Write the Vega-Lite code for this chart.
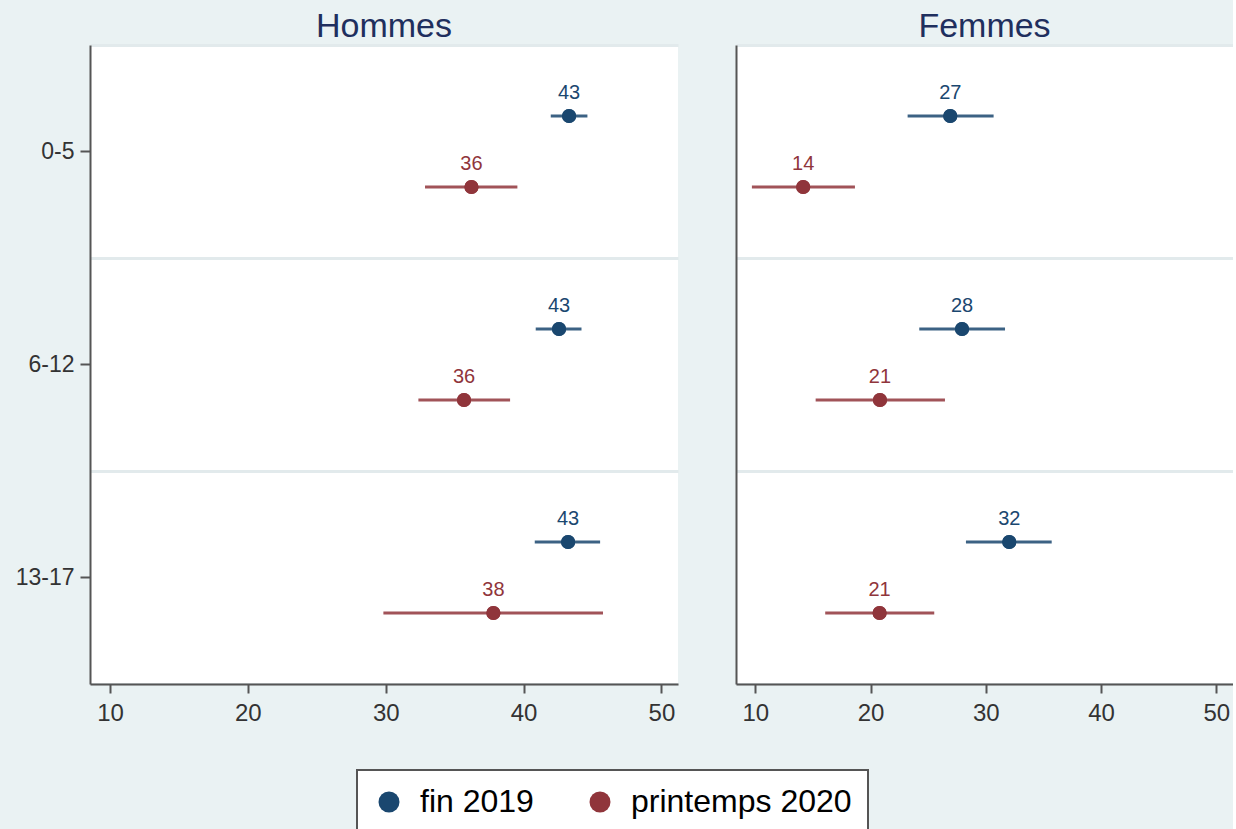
{
  "$schema": "https://vega.github.io/schema/vega-lite/v6.json",
  "background": "#eaf2f3",
  "padding": {"left": 10, "top": 10, "right": 0, "bottom": 110},
  "spacing": 58,
  "config": {
    "font": "Liberation Sans",
    "view": {"fill": "white", "stroke": null},
    "title": {"fontSize": 34, "fontWeight": "normal", "color": "#1f2f5e", "offset": 1, "anchor": "middle"},
    "axis": {"domainColor": "#555555", "domainWidth": 2, "tickColor": "#555555", "tickWidth": 2, "labelColor": "#333333", "labelFontSize": 23, "labelFont": "Liberation Sans"},
    "legend": {"title": null, "orient": "none", "legendX": 267, "legendY": 725, "direction": "horizontal", "symbolType": "circle", "symbolSize": 441, "symbolStrokeWidth": 0, "symbolOpacity": 1, "labelFontSize": 32, "labelLimit": 500, "labelColor": "#000000", "fillColor": "white", "strokeColor": "#555555", "strokeWidth": 2, "padding": 16, "columnPadding": 50, "labelOffset": 15}
  },
  "data": {"values": [
    {"sexe": "Hommes", "age": "0-5", "periode": "fin 2019", "est": 43.3, "lo": 41.97, "hi": 44.63},
    {"sexe": "Hommes", "age": "0-5", "periode": "printemps 2020", "est": 36.22, "lo": 32.85, "hi": 39.55},
    {"sexe": "Hommes", "age": "6-12", "periode": "fin 2019", "est": 42.57, "lo": 40.88, "hi": 44.2},
    {"sexe": "Hommes", "age": "6-12", "periode": "printemps 2020", "est": 35.68, "lo": 32.37, "hi": 39.02},
    {"sexe": "Hommes", "age": "13-17", "periode": "fin 2019", "est": 43.23, "lo": 40.81, "hi": 45.55},
    {"sexe": "Hommes", "age": "13-17", "periode": "printemps 2020", "est": 37.81, "lo": 29.83, "hi": 45.76},
    {"sexe": "Femmes", "age": "0-5", "periode": "fin 2019", "est": 26.92, "lo": 23.22, "hi": 30.68},
    {"sexe": "Femmes", "age": "0-5", "periode": "printemps 2020", "est": 14.16, "lo": 9.71, "hi": 18.65},
    {"sexe": "Femmes", "age": "6-12", "periode": "fin 2019", "est": 27.94, "lo": 24.23, "hi": 31.67},
    {"sexe": "Femmes", "age": "6-12", "periode": "printemps 2020", "est": 20.82, "lo": 15.24, "hi": 26.46},
    {"sexe": "Femmes", "age": "13-17", "periode": "fin 2019", "est": 32.04, "lo": 28.28, "hi": 35.72},
    {"sexe": "Femmes", "age": "13-17", "periode": "printemps 2020", "est": 20.79, "lo": 16.07, "hi": 25.53}
  ]},
  "hconcat": [
    {
      "width": 588, "height": 639,
      "title": "Hommes",
      "transform": [{"filter": "datum.sexe === 'Hommes'"}],
      "layer": [
        {
          "mark": {"type": "point", "filled": true, "size": 200, "opacity": 1},
          "encoding": {
            "x": {"field": "est", "type": "quantitative", "scale": {"domain": [8.55, 51.2], "nice": false, "zero": false}, "axis": {"values": [10, 20, 30, 40, 50], "grid": false, "title": null, "tickSize": 9, "labelPadding": 8, "labelFontSize": 24}},
            "y": {"field": "age", "type": "nominal", "sort": ["0-5", "6-12", "13-17"], "scale": {"paddingInner": 0, "paddingOuter": 0}, "axis": {"orient": "left", "grid": false, "tickSize": 10, "labelPadding": 6, "minExtent": 80, "maxExtent": 80, "title": null}},
            "yOffset": {"field": "periode", "type": "nominal", "sort": ["fin 2019", "printemps 2020"], "scale": {"paddingInner": 0, "paddingOuter": 0.5}},
            "color": {"field": "periode", "type": "nominal", "scale": {"domain": ["fin 2019", "printemps 2020"], "range": ["#1a476f", "#90353b"]}}
          }
        },
        {
          "mark": {"type": "rule", "strokeWidth": 3, "opacity": 0.85},
          "encoding": {
            "x": {"field": "lo", "type": "quantitative"},
            "x2": {"field": "hi"},
            "y": {"field": "age", "type": "nominal", "sort": ["0-5", "6-12", "13-17"], "axis": {"orient": "left", "tickBand": "extent", "grid": true, "gridColor": "#e2eaec", "gridWidth": 3, "labels": false, "ticks": false, "domain": false, "minExtent": 0, "maxExtent": 0, "title": null}},
            "yOffset": {"field": "periode", "type": "nominal", "sort": ["fin 2019", "printemps 2020"]},
            "color": {"field": "periode", "type": "nominal"}
          }
        },
        {
          "mark": {"type": "point", "filled": true, "size": 200, "opacity": 1},
          "encoding": {
            "x": {"field": "est", "type": "quantitative"},
            "y": {"field": "age", "type": "nominal", "sort": ["0-5", "6-12", "13-17"], "axis": null},
            "yOffset": {"field": "periode", "type": "nominal", "sort": ["fin 2019", "printemps 2020"]},
            "color": {"field": "periode", "type": "nominal"}
          }
        },
        {
          "mark": {"type": "text", "fontSize": 20, "dy": -23},
          "encoding": {
            "x": {"field": "est", "type": "quantitative"},
            "y": {"field": "age", "type": "nominal", "sort": ["0-5", "6-12", "13-17"], "axis": null},
            "yOffset": {"field": "periode", "type": "nominal", "sort": ["fin 2019", "printemps 2020"]},
            "text": {"field": "est", "type": "quantitative", "format": ".0f"},
            "color": {"field": "periode", "type": "nominal"}
          }
        }
      ],
      "resolve": {"axis": {"y": "independent"}}
    },
    {
      "width": 497, "height": 639,
      "title": "Femmes",
      "transform": [{"filter": "datum.sexe === 'Femmes'"}],
      "layer": [
        {
          "mark": {"type": "point", "filled": true, "size": 200, "opacity": 1},
          "encoding": {
            "x": {"field": "est", "type": "quantitative", "scale": {"domain": [8.33, 51.45], "nice": false, "zero": false}, "axis": {"values": [10, 20, 30, 40, 50], "grid": false, "title": null, "tickSize": 9, "labelPadding": 8, "labelFontSize": 24}},
            "y": {"field": "age", "type": "nominal", "sort": ["0-5", "6-12", "13-17"], "scale": {"paddingInner": 0, "paddingOuter": 0}, "axis": {"orient": "left", "grid": false, "labels": false, "ticks": false, "minExtent": 0, "maxExtent": 0, "title": null}},
            "yOffset": {"field": "periode", "type": "nominal", "sort": ["fin 2019", "printemps 2020"], "scale": {"paddingInner": 0, "paddingOuter": 0.5}},
            "color": {"field": "periode", "type": "nominal", "scale": {"domain": ["fin 2019", "printemps 2020"], "range": ["#1a476f", "#90353b"]}}
          }
        },
        {
          "mark": {"type": "rule", "strokeWidth": 3, "opacity": 0.85},
          "encoding": {
            "x": {"field": "lo", "type": "quantitative"},
            "x2": {"field": "hi"},
            "y": {"field": "age", "type": "nominal", "sort": ["0-5", "6-12", "13-17"], "axis": {"orient": "left", "tickBand": "extent", "grid": true, "gridColor": "#e2eaec", "gridWidth": 3, "labels": false, "ticks": false, "domain": false, "minExtent": 0, "maxExtent": 0, "title": null}},
            "yOffset": {"field": "periode", "type": "nominal", "sort": ["fin 2019", "printemps 2020"]},
            "color": {"field": "periode", "type": "nominal"}
          }
        },
        {
          "mark": {"type": "point", "filled": true, "size": 200, "opacity": 1},
          "encoding": {
            "x": {"field": "est", "type": "quantitative"},
            "y": {"field": "age", "type": "nominal", "sort": ["0-5", "6-12", "13-17"], "axis": null},
            "yOffset": {"field": "periode", "type": "nominal", "sort": ["fin 2019", "printemps 2020"]},
            "color": {"field": "periode", "type": "nominal"}
          }
        },
        {
          "mark": {"type": "text", "fontSize": 20, "dy": -23},
          "encoding": {
            "x": {"field": "est", "type": "quantitative"},
            "y": {"field": "age", "type": "nominal", "sort": ["0-5", "6-12", "13-17"], "axis": null},
            "yOffset": {"field": "periode", "type": "nominal", "sort": ["fin 2019", "printemps 2020"]},
            "text": {"field": "est", "type": "quantitative", "format": ".0f"},
            "color": {"field": "periode", "type": "nominal"}
          }
        }
      ],
      "resolve": {"axis": {"y": "independent"}}
    }
  ]
}
